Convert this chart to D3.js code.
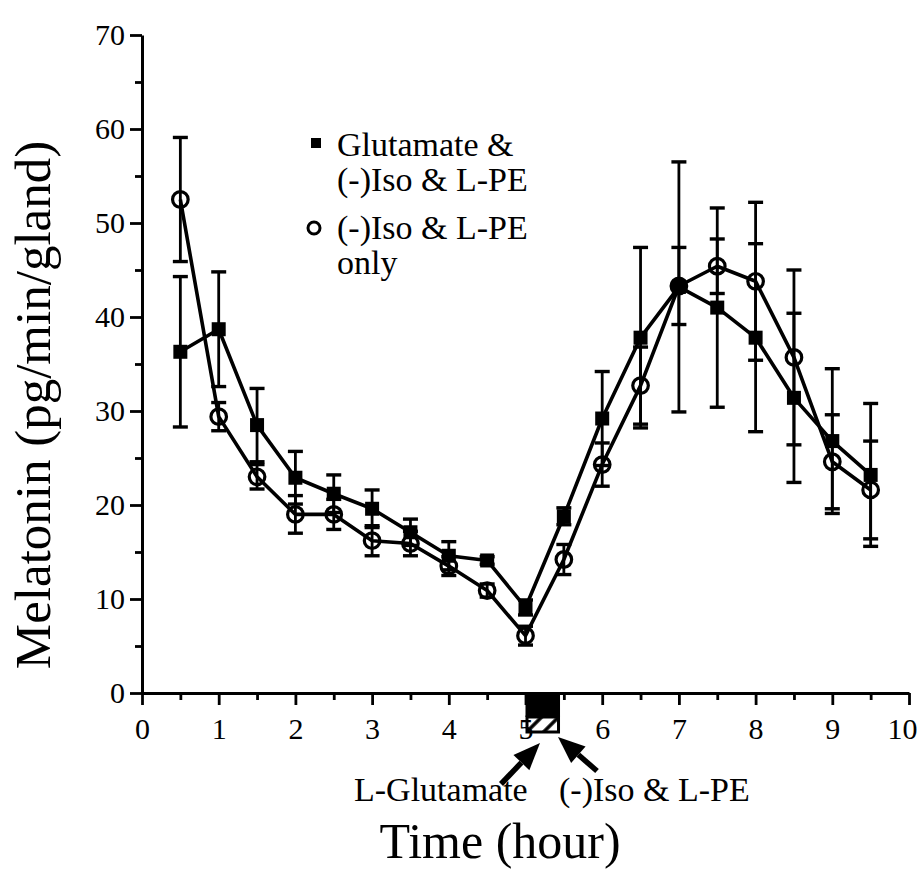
<!DOCTYPE html>
<html>
<head>
<meta charset="utf-8">
<script src="https://cdn.jsdelivr.net/npm/d3@7"></script>
<style>
  html, body { margin: 0; padding: 0; background: #fff; }
  svg { display: block; }
  text { font-family: "Liberation Serif", "Times New Roman", serif; fill: #000; }
</style>
</head>
<body>
<svg id="chart" width="918" height="874"></svg>
<script>
// ---- data ----
const times = [0.5, 1, 1.5, 2, 2.5, 3, 3.5, 4, 4.5, 5, 5.5, 6, 6.5, 7, 7.5, 8, 8.5, 9, 9.5];
const glutMean = [36.3, 38.7, 28.5, 22.9, 21.2, 19.6, 17.1, 14.6, 14.1, 9.1, 18.8, 29.2, 37.8, 43.2, 41.0, 37.8, 31.4, 26.8, 23.2];
const glutErr  = [8.0, 6.1, 3.9, 2.8, 2.0, 2.0, 1.4, 1.5, 0.4, 0.8, 0.9, 5.0, 9.6, 13.3, 10.6, 10.0, 9.0, 7.7, 7.6];
const isoMean  = [52.5, 29.4, 23.0, 19.0, 19.0, 16.2, 15.9, 13.5, 10.9, 6.1, 14.2, 24.3, 32.7, 43.3, 45.4, 43.8, 35.7, 24.6, 21.6];
const isoErr   = [6.6, 1.5, 1.3, 2.0, 1.6, 1.6, 1.3, 1.0, 0.7, 1.0, 1.6, 2.3, 4.1, 4.1, 2.9, 8.4, 9.3, 5.0, 5.2];
const xMajorTicks = [0, 1, 2, 3, 4, 5, 6, 7, 8, 9, 10];
const xMinorTicks = [0.5, 1.5, 2.5, 3.5, 4.5, 5.5, 6.5, 7.5, 8.5, 9.5];
const yMajorTicks = [0, 10, 20, 30, 40, 50, 60, 70];
const yMinorTicks = [5, 15, 25, 35, 45, 55, 65];
const legendLabels = [["Glutamate &", "(-)Iso & L-PE"], ["(-)Iso & L-PE", "only"]];
const treatmentSpan = [5.0, 5.45];
const treatmentLabels = ["L-Glutamate", "(-)Iso & L-PE"];
const xTitle = "Time (hour)";
const yTitle = "Melatonin (pg/min/gland)";

// ---- layout ----
const svg = d3.select("#chart");
const x = d3.scaleLinear().domain([0, 10]).range([142, 909]);
const y = d3.scaleLinear().domain([0, 70]).range([693, 35]);

const defs = svg.append("defs");
const pat = defs.append("pattern").attr("id", "hatch").attr("patternUnits", "userSpaceOnUse")
  .attr("width", 12).attr("height", 12).attr("patternTransform", "rotate(45)");
pat.append("rect").attr("width", 12).attr("height", 12).attr("fill", "#fff");
pat.append("line").attr("x1", 2).attr("y1", 0).attr("x2", 2).attr("y2", 12)
  .attr("stroke", "#000").attr("stroke-width", 3.5);

// treatment boxes (below axis)
const boxG = svg.append("g");
const bx0 = x(treatmentSpan[0]), bw = x(treatmentSpan[1]) - x(treatmentSpan[0]);
boxG.append("rect").attr("x", bx0).attr("y", y(0)).attr("width", bw).attr("height", 24).attr("fill", "#000");
boxG.append("rect").attr("x", bx0 + 1.5).attr("y", y(0) + 24)
  .attr("width", bw - 3).attr("height", 15)
  .attr("fill", "url(#hatch)").attr("stroke", "#000").attr("stroke-width", 3);

// axes
function styleAxis(g, fs) {
  g.attr("font-size", fs).attr("font-family", '"Liberation Serif", serif');
  g.selectAll("path.domain").attr("stroke", "#000").attr("stroke-width", 3);
  g.selectAll(".tick line").attr("stroke", "#000").attr("stroke-width", 2.8);
  g.selectAll("text").attr("fill", "#000");
}
const xAxis = svg.append("g").attr("transform", `translate(0,${y(0)})`)
  .call(d3.axisBottom(x).tickValues(xMajorTicks).tickSize(12).tickSizeOuter(0).tickPadding(13).tickFormat(d3.format("d")));
styleAxis(xAxis, 30);
xAxis.selectAll(".tick text").filter(d => d === 10).attr("dx", -7);
const xAxisMinor = svg.append("g").attr("transform", `translate(0,${y(0)})`)
  .call(d3.axisBottom(x).tickValues(xMinorTicks).tickSize(7).tickFormat(""));
styleAxis(xAxisMinor, 30);
xAxisMinor.select("path.domain").remove();

const yAxis = svg.append("g").attr("transform", `translate(${x(0)},0)`)
  .call(d3.axisLeft(y).tickValues(yMajorTicks).tickSize(12).tickSizeOuter(0).tickPadding(5).tickFormat(d3.format("d")));
styleAxis(yAxis, 30);
const yAxisMinor = svg.append("g").attr("transform", `translate(${x(0)},0)`)
  .call(d3.axisLeft(y).tickValues(yMinorTicks).tickSize(7).tickFormat(""));
styleAxis(yAxisMinor, 30);
yAxisMinor.select("path.domain").remove();

// series
const series = [
  { mean: glutMean, err: glutErr, type: "square" },
  { mean: isoMean, err: isoErr, type: "circle" }
];
const line = d3.line().x((d, i) => x(times[i])).y(d => y(d));
const plot = svg.append("g");
series.forEach(s => {
  plot.append("path").attr("d", line(s.mean)).attr("fill", "none")
    .attr("stroke", "#000").attr("stroke-width", 3.6).attr("stroke-linejoin", "round");
});
series.forEach(s => {
  const eg = plot.append("g").attr("stroke", "#000").attr("stroke-width", 2.8);
  s.mean.forEach((m, i) => {
    const cx = x(times[i]);
    const y1 = y(m - s.err[i]), y2 = y(m + s.err[i]);
    eg.append("line").attr("x1", cx).attr("x2", cx).attr("y1", y1).attr("y2", y2);
    eg.append("line").attr("x1", cx - 7.5).attr("x2", cx + 7.5).attr("y1", y1).attr("y2", y1).attr("stroke-width", 3.4);
    eg.append("line").attr("x1", cx - 7.5).attr("x2", cx + 7.5).attr("y1", y2).attr("y2", y2).attr("stroke-width", 3.4);
  });
});
series.forEach(s => {
  s.mean.forEach((m, i) => {
    const cx = x(times[i]), cy = y(m);
    if (s.type === "square") {
      plot.append("rect").attr("x", cx - 7).attr("y", cy - 7).attr("width", 14).attr("height", 14).attr("fill", "#000");
    } else {
      plot.append("circle").attr("cx", cx).attr("cy", cy).attr("r", 7.8)
        .attr("fill", "none").attr("stroke", "#000").attr("stroke-width", 3.2);
    }
  });
});

// legend
const lg = svg.append("g").style("font-size", "34px");
lg.append("rect").attr("x", 311).attr("y", 138).attr("width", 10).attr("height", 10).attr("fill", "#000");
lg.append("text").attr("x", 337).attr("y", 156).text(legendLabels[0][0]);
lg.append("text").attr("x", 337).attr("y", 191).text(legendLabels[0][1]);
lg.append("circle").attr("cx", 314).attr("cy", 228).attr("r", 6).attr("fill", "none").attr("stroke", "#000").attr("stroke-width", 3);
lg.append("text").attr("x", 337).attr("y", 239).text(legendLabels[1][0]);
lg.append("text").attr("x", 337).attr("y", 274).text(legendLabels[1][1]);

// treatment annotations
const ag = svg.append("g").style("font-size", "34px");
ag.append("text").attr("x", 354).attr("y", 801).text(treatmentLabels[0]);
ag.append("text").attr("x", 559).attr("y", 801).text(treatmentLabels[1]);
function arrow(x1, y1, x2, y2) {
  const ang = Math.atan2(y2 - y1, x2 - x1);
  const hl = 27, hw = 11;
  const bx = x2 - hl * Math.cos(ang), by = y2 - hl * Math.sin(ang);
  ag.append("line").attr("x1", x1).attr("y1", y1).attr("x2", bx).attr("y2", by)
    .attr("stroke", "#000").attr("stroke-width", 5.5);
  const px = -Math.sin(ang) * hw, py = Math.cos(ang) * hw;
  ag.append("path").attr("d", `M${x2},${y2}L${bx + px},${by + py}L${bx - px},${by - py}Z`).attr("fill", "#000");
}
arrow(501, 784, 540, 743);
arrow(597, 771, 558, 737);

// axis titles
svg.append("text").attr("x", 500).attr("y", 858).attr("text-anchor", "middle")
  .style("font-size", "50px").text(xTitle);
svg.append("text").attr("transform", "translate(50,405) rotate(-90)").attr("text-anchor", "middle")
  .style("font-size", "51px").text(yTitle);
</script>
</body>
</html>
